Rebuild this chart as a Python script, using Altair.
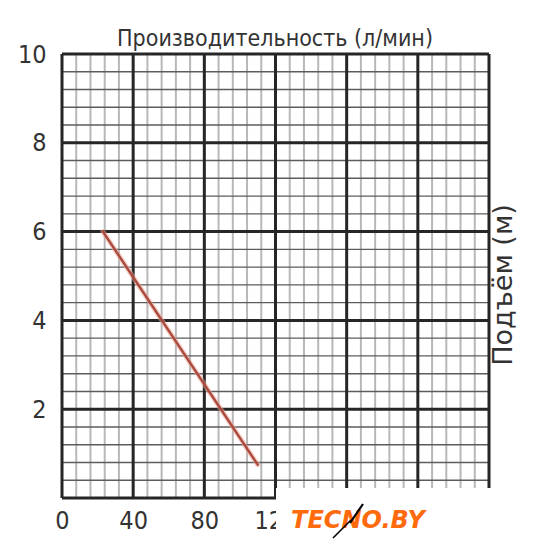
import altair as alt
import pandas as pd

# Pump curve: flow rate (l/min) vs head (m)
flow = [23, 110]
head = [6.0, 0.75]

x_ticks = [0, 40, 80, 120]
y_ticks = [2, 4, 6, 8, 10]

x_major = [0, 40, 80, 120, 160, 200, 240]
x_minor = [v for v in range(0, 241, 8) if v % 40]
y_major = [0, 2, 4, 6, 8, 10]
y_minor = [round(i * 0.4, 1) for i in range(26) if i % 5]

FONT = "'Liberation Sans Narrow', 'DejaVu Sans Condensed', 'Liberation Sans', sans-serif"
TXT = "#333333"

xs = alt.Scale(domain=[0, 240], nice=False, zero=True)
ys = alt.Scale(domain=[0, 10], nice=False, zero=True)

x_axis = alt.Axis(
    values=x_ticks,
    title=None,
    grid=False,
    domain=False,
    ticks=False,
    labelFont=FONT,
    labelFontSize=25,
    labelColor=TXT,
    labelPadding=10,
    labelFlush=False,
    labelOverlap=False,
    labelBaseline="top",
)
y_axis = alt.Axis(
    values=y_ticks,
    title=None,
    grid=False,
    domain=False,
    ticks=False,
    labelFont=FONT,
    labelFontSize=25,
    labelColor=TXT,
    labelPadding=16,
    labelFlush=False,
    labelOverlap=False,
)

one = alt.Data(values=[{}])

vminor = alt.Chart(pd.DataFrame({"v": x_minor})).mark_rule(
    color="#b8b8b8", strokeWidth=2
).encode(x=alt.X("v:Q", scale=xs, axis=x_axis))

hminor = alt.Chart(pd.DataFrame({"v": y_minor})).mark_rule(
    color="#5c5c5c", strokeWidth=1.4
).encode(y=alt.Y("v:Q", scale=ys, axis=y_axis))

vmajor = alt.Chart(pd.DataFrame({"v": x_major})).mark_rule(
    color="#262626", strokeWidth=3
).encode(x=alt.X("v:Q", scale=xs, axis=x_axis))

hmajor = alt.Chart(pd.DataFrame({"v": y_major})).mark_rule(
    color="#262626", strokeWidth=3
).encode(y=alt.Y("v:Q", scale=ys, axis=y_axis))

curve_df = pd.DataFrame({"flow": flow, "head": head})
glow = alt.Chart(curve_df).mark_line(
    color="#eba597", strokeWidth=5, opacity=0.55, strokeCap="round"
).encode(
    x=alt.X("flow:Q", scale=xs, axis=x_axis),
    y=alt.Y("head:Q", scale=ys, axis=y_axis),
)
curve = alt.Chart(curve_df).mark_line(
    color="#a94a3d", strokeWidth=2.4, strokeCap="round"
).encode(
    x=alt.X("flow:Q", scale=xs, axis=x_axis),
    y=alt.Y("head:Q", scale=ys, axis=y_axis),
)

title_top = alt.Chart(one).mark_text(
    text="Производительность (л/мин)",
    font=FONT,
    fontSize=23,
    color=TXT,
    align="center",
    baseline="alphabetic",
).encode(x=alt.value(213), y=alt.value(-8))

title_right = alt.Chart(one).mark_text(
    text="Подъём (м)",
    font="'DejaVu Sans', sans-serif",
    fontSize=27,
    color=TXT,
    angle=270,
    align="center",
    baseline="alphabetic",
).encode(x=alt.value(450), y=alt.value(231))

# white plate with the site logo in the lower right corner
plate = alt.Chart(one).mark_rect(color="white").encode(
    x=alt.value(214), x2=alt.value(472), y=alt.value(434), y2=alt.value(501)
)

ORANGE = "#ff6a0d"
logo = alt.Chart(one).mark_text(
    text="TECNO.BY", font="'DejaVu Sans', sans-serif", fontSize=24,
    fontWeight="bold", fontStyle="italic",
    color=ORANGE, align="center", baseline="alphabetic",
).encode(x=alt.value(296), y=alt.value(474))
bolt1 = alt.Chart(one).mark_rule(color="black", strokeWidth=2.2).encode(
    x=alt.value(301), x2=alt.value(288), y=alt.value(450), y2=alt.value(469)
)
bolt2 = alt.Chart(one).mark_rule(color="black", strokeWidth=1.6).encode(
    x=alt.value(289), x2=alt.value(271), y=alt.value(466), y2=alt.value(484)
)

chart = alt.layer(
    vminor, hminor, vmajor, hmajor, glow, curve,
    title_top, title_right, plate, logo, bolt1, bolt2,
).properties(
    width=427,
    height=444,
    autosize=alt.AutoSizeParams(type="none"),
    padding={"left": 62, "top": 54, "right": 45, "bottom": 57},
    background="white",
).configure_view(stroke=None)

chart.save("out.html", embed_options={"renderer": "svg", "actions": False})
